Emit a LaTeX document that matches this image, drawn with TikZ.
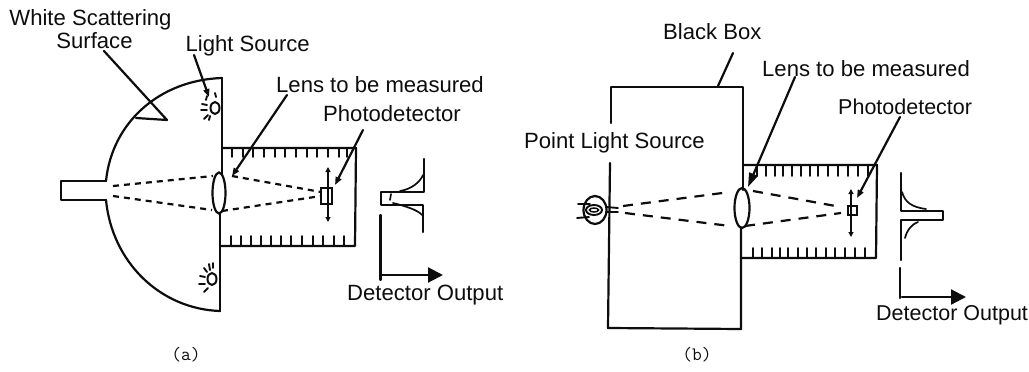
\documentclass[tikz,border=0pt]{standalone}
\usepackage{fontspec}
\setmainfont{Liberation Sans}
\usetikzlibrary{arrows.meta,shapes.geometric}
\definecolor{ink}{gray}{0.05}
\tikzset{
  x=1pt,y=-1pt,
  ln/.style={draw=ink,line width=2.2pt,line cap=round,line join=round},
  tick/.style={draw=ink,line width=1.9pt,line cap=round},
  fine/.style={draw=ink,line width=1.7pt,line cap=round,line join=round},
  thin ln/.style={draw=ink,line width=1.5pt,line cap=round},
  dsh/.style={draw=ink,line width=2.2pt,dash pattern=on 6pt off 5pt},
  dshb/.style={draw=ink,line width=2.2pt,dash pattern=on 10pt off 8pt},
  lens/.style={draw=ink,line width=2.2pt,ellipse,inner sep=0pt},
  lamp/.style={draw=ink,line width=2pt,ellipse,inner sep=0pt,minimum width=9pt,minimum height=12pt},
  det/.style={draw=ink,line width=2pt,inner sep=0pt},
  lbl/.style={inner sep=0pt,font=\fontsize{22.1}{24}\selectfont,text=ink},
  lbls/.style={inner sep=0pt,font=\fontsize{21.5}{24}\selectfont,text=ink},
  cap lbl/.style={inner sep=0pt,font=\fontsize{19}{21}\selectfont\ttfamily,text=ink},
  ptr/.style={ln,-{Triangle[length=8pt,width=6pt]}},
  ptrb/.style={ln,-{Triangle[length=14pt,width=9pt]}},
  big/.style={ln,-{Triangle[length=15pt,width=15pt]}},
  both/.style={thin ln,{Triangle[length=5pt,width=5pt]}-{Triangle[length=5pt,width=5pt]}},
}
\begin{document}
\begin{tikzpicture}
\useasboundingbox (0,0) rectangle (1029,372);
% ---------- (a)
\node[lbl] (wss) at (90.5,20) {White Scattering};
\node[lbl] (sf) at (94.5,41) {Surface};
\node[lbl,anchor=west] (ls) at (185.5,46) {Light Source};
\node[lbl,anchor=west] (lensa) at (276,85) {Lens to be measured};
\node[lbl,anchor=west] (pda) at (323,114) {Photodetector};
\node[lbl,anchor=west] (doa) at (347,295) {Detector Output};
\node[cap lbl] (capa) at (186,355) {(a)};
% housing
\draw[ln] (106,181) -- (61,181) -- (61,200) -- (106,200);
\draw[ln] (222,78) .. controls (160,80) and (112,122) .. (106,181);
\draw[ln] (106,200) .. controls (112,262) and (160,309) .. (220,311);
\draw[ln] (222,78) -- (222,174);
\draw[ln] (220,214) -- (220,311);
% white surface pointer
\coordinate (wsa) at (104,51);
\coordinate (wsb) at (167,120);
\coordinate (wsc) at (136,118);
\draw[ln] (wsa) -- (wsb) -- (wsc);
% light sources
\node[lamp] (s1) at (215,108) {};
\node[lamp] (s2) at (212,279) {};
\draw[tick] (207,96)--(206,100) (215,93)--(216,97) (202,104)--(207,105) (201,110)--(207,110) (204,119)--(208,115) (209,120)--(210,116);
\draw[tick] (204,268)--(207,272) (209,264)--(210,270) (213,263)--(213,268) (200,276)--(205,277) (199,284)--(205,284) (204,292)--(208,288);
\coordinate (lsp) at (194,55);
\coordinate (lst) at (209,97);
\draw[ptr] (lsp) -- (lst);
% tube
\draw[ln] (222,148) -- (356,148) -- (355,246) -- (221,246);
\foreach \x in {232,243,253,264,275,285,296,307,317,328,339,347}{\draw[tick] (\x,148) -- (\x,157);}
\foreach \x in {231,241,251,261,271,281,291,302,313,323,334,344}{\draw[tick] (\x,246) -- (\x,236);}
% lens
\node[lens,minimum width=13pt,minimum height=41pt] (la) at (219,193) {};
% rays
\coordinate (r1) at (113,186); \coordinate (r2) at (213,176);
\coordinate (r3) at (113,196); \coordinate (r4) at (212,210);
\coordinate (r5) at (232,176); \coordinate (r6) at (321,192);
\coordinate (r7) at (222,211); \coordinate (r8) at (321,196);
\draw[dsh] (r1) -- (r2); \draw[dsh] (r3) -- (r4);
\draw[dsh] (r5) -- (r6); \draw[dsh] (r7) -- (r8);
% detector
\node[det,minimum width=11pt,minimum height=16pt] (da) at (326,196) {};
\coordinate (dau) at (328,167); \coordinate (dad) at (328,222);
\draw[both] (dau) -- (dad);
% pointers
\coordinate (lap) at (287,95); \coordinate (lat) at (232,176);
\draw[ptr] (lap) -- (lat);
\coordinate (pap) at (363,130); \coordinate (pat) at (335,185);
\draw[ptr] (pap) -- (pat);
% output
\draw[ln] (424,159) -- (424,192) -- (381,192) -- (381,205) -- (423,205) -- (423,232);
\draw[fine] (400,191) .. controls (412,189) and (420,182) .. (423,175);
\draw[fine] (393,203) .. controls (405,206) and (418,210) .. (422,215);
\draw[fine] (391,194)--(390,200);
\coordinate (aa) at (380.5,215); \coordinate (ab) at (380.5,280);
\draw[ln] (aa) -- (ab);
\coordinate (ac) at (380,275); \coordinate (ad) at (443,275);
\draw[big] (ac) -- (ad);
% ---------- (b)
\node[lbl,anchor=west] (bb) at (663,32) {Black Box};
\node[lbl,anchor=west] (lensb) at (762,69) {Lens to be measured};
\node[lbl,anchor=west] (pls) at (524,143) {Point Light Source};
\node[lbls,anchor=west] (pdb) at (838,107) {Photodetector};
\node[lbls,anchor=west] (dob) at (876,315) {Detector Output};
\node[cap lbl] (capb) at (697,355) {(b)};
% box
\draw[ln] (611,123) -- (611,87) -- (743,87) -- (743,190);
\draw[ln] (610,163) -- (608,328) -- (741,329) -- (741,228);
\coordinate (bbp) at (733,53); \coordinate (bbt) at (718,86);
\draw[ln] (bbp) -- (bbt);
% bulb
\node[lens,minimum width=23pt,minimum height=28pt] (bulb) at (595,210) {};
\node[lens,line width=1.9pt,minimum width=16pt,minimum height=10pt] (bi) at (594,210) {};
\node[lens,line width=1.5pt,minimum width=9pt,minimum height=4pt] (bi2) at (594,210) {};
\draw[tick] (578,204) -- (590,204) (577,218) -- (589,217);
\draw[tick] (606,207) -- (618,208) (606,212) -- (618,212);
% lens b
\node[lens,minimum width=15pt,minimum height=40pt] (lb) at (742,208) {};
% rays b
\coordinate (q1) at (623,206); \coordinate (q2) at (730,192);
\coordinate (q3) at (625,213); \coordinate (q4) at (730,226);
\coordinate (q5) at (753,191); \coordinate (q6) at (841,207);
\coordinate (q7) at (745,226); \coordinate (q8) at (841,213);
\draw[dshb] (q1) -- (q2); \draw[dshb] (q3) -- (q4);
\draw[dshb] (q5) -- (q6); \draw[dshb] (q7) -- (q8);
% tube b
\draw[ln] (743,165) -- (877,165) -- (876,258) -- (741,258);
\foreach \x in {757,766,775,783,792,801,810,818,828,838,848,858,868}{\draw[tick] (\x,165) -- (\x,176);}
\foreach \x in {753,762,772,780,788,798,807,816,826,835,845,855,865}{\draw[tick] (\x,258) -- (\x,248);}
% detector b
\node[det,minimum width=9pt,minimum height=9pt] (db) at (852,210.5) {};
\coordinate (dbu) at (851,189); \coordinate (dbd) at (851,237);
\draw[both] (dbu) -- (dbd);
% pointers b
\coordinate (lbp) at (795,77); \coordinate (lbt) at (748,187);
\draw[ptrb] (lbp) -- (lbt);
\coordinate (pbp) at (900,117); \coordinate (pbt) at (857,198);
\draw[ptr] (pbp) -- (pbt);
% output b
\draw[ln] (901,173) -- (901,211) -- (943,211) -- (943,220) -- (901,220) -- (901,260);
\draw[fine] (902,192) .. controls (905,202) and (911,207) .. (926,209);
\draw[fine] (905,238) .. controls (907,230) and (912,224) .. (918,222);
\coordinate (ba) at (900,268); \coordinate (bb2) at (900,298);
\draw[ln] (ba) -- (bb2);
\coordinate (bc) at (902,297); \coordinate (bd) at (966,297);
\draw[big] (bc) -- (bd);
\end{tikzpicture}
\end{document}
